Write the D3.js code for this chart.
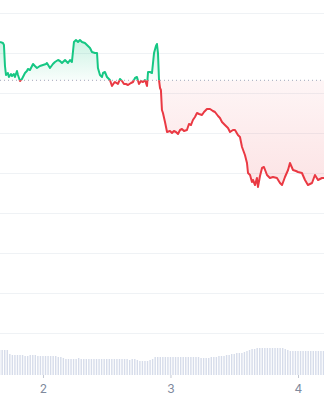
<html>
<head>
<meta charset="utf-8" />
<title>Price chart</title>
<script src="https://d3js.org/d3.v7.min.js"></script>
<style>
  body { margin: 0; background: #fff; }
  svg { display: block; }
  .tick text { font-family: "Inter", "Noto Sans", sans-serif; font-size: 12px; fill: #808a9d; }
  .tick line { stroke: #c3c8d2; }
</style>
</head>
<body>
<script>
var times = [1.663,1.686,1.694,1.702,1.710,1.725,1.733,1.749,1.757,1.772,1.780,1.796,1.804,1.820,1.835,1.859,1.874,1.882,1.898,1.922,
  1.937,1.953,1.976,2.000,2.024,2.031,2.055,2.078,2.094,2.118,2.133,2.149,2.173,2.196,2.212,2.227,2.243,2.259,2.275,2.290,
  2.306,2.329,2.345,2.369,2.384,2.408,2.424,2.431,2.447,2.463,2.471,2.486,2.502,2.525,2.541,2.557,2.565,2.588,2.604,2.620,
  2.635,2.651,2.667,2.690,2.706,2.722,2.737,2.753,2.769,2.784,2.800,2.816,2.824,2.839,2.855,2.871,2.886,2.894,2.902,2.910,
  2.918,2.925,2.933,2.941,2.957,2.973,2.996,3.012,3.027,3.043,3.059,3.075,3.090,3.106,3.129,3.145,3.161,3.176,3.192,3.208,
  3.224,3.247,3.263,3.286,3.310,3.333,3.349,3.373,3.388,3.404,3.427,3.451,3.467,3.490,3.506,3.529,3.545,3.561,3.584,3.600,
  3.608,3.624,3.639,3.647,3.663,3.678,3.686,3.702,3.718,3.733,3.757,3.780,3.804,3.835,3.859,3.875,3.898,3.922,3.937,3.961,
  3.984,4.000,4.031,4.055,4.078,4.110,4.133,4.157,4.188,4.204];

var prices = [29.1,29.0,28.8,26.7,25.8,26.0,25.6,25.9,25.7,25.9,25.6,26.2,25.8,25.2,25.4,26.0,26.2,26.4,26.3,26.9,
  26.7,26.5,26.7,26.8,26.9,27.0,26.5,26.9,27.1,27.3,27.2,27.0,27.3,27.0,27.3,27.1,29.1,29.3,29.1,29.3,
  29.1,29.0,28.8,28.5,28.1,28.0,28.0,26.5,25.8,25.6,26.0,26.1,25.6,25.3,24.7,25.0,25.1,24.9,25.4,25.2,
  24.9,24.9,24.8,25.0,25.1,25.5,25.6,24.9,25.2,25.1,25.3,24.7,26.1,26.1,26.0,28.0,28.7,28.9,28.0,25.3,
  24.5,24.3,22.3,22.0,21.1,20.1,20.2,20.0,20.2,20.1,19.9,20.3,20.4,20.2,20.3,20.9,20.8,21.3,21.6,22.0,
  21.9,21.8,22.1,22.4,22.4,22.2,22.1,21.7,21.5,21.1,20.8,20.5,20.1,20.3,20.3,19.8,19.6,18.6,17.8,17.0,
  16.0,15.8,15.1,15.3,14.8,15.5,14.6,15.7,16.5,16.6,15.8,15.5,15.6,15.5,15.0,14.8,15.6,16.3,17.0,16.3,
  16.2,16.1,16.0,15.3,14.8,15.0,15.8,15.3,15.5,15.5];

var openPrice = 25.27;
var gridValues = [0, 4, 8, 12, 16, 20, 24, 28, 32];
var dayTicks = [2, 3, 4];

// volume bars, one every 0.02 day from volStart
var volStart = 1.66, volStep = 0.02;
var volumes = [25,25,25,25,
  21,20,20,20,20,20,19,19,20,20,
  20,19,19,19,19,19,19,19,19,18,
  18,17,16,16,16,16,16,17,16,16,
  16,16,16,16,16,16,16,16,16,16,
  16,16,16,16,16,16,16,15,16,16,
  15,14,14,14,14,15,16,18,18,18,
  18,18,18,18,18,18,18,18,18,18,
  18,18,18,18,18,17,17,17,17,18,
  18,18,19,19,19,20,20,21,21,22,
  22,22,23,24,25,26,26,27,27,27,
  27,27,27,27,27,27,27,27,26,25,
  24,24,24,24,24,24,24,24,24,24,
  24,24,24,24];

var width = 324, height = 400;
var green = "#16c784", red = "#ea3943";

var svg = d3.select("body").append("svg")
    .attr("width", width)
    .attr("height", height);

var x = d3.scaleLinear().domain(d3.extent(times)).range([0, width]);
var y = d3.scaleLinear().domain([0, 32]).range([333, 13]);
var yv = d3.scaleLinear().domain([0, 40]).range([375, 335]);

var data = times.map(function(t, i) { return {t: t, p: prices[i]}; });
var base = y(openPrice);

var defs = svg.append("defs");

defs.append("clipPath").attr("id", "above")
  .append("rect").attr("x", 0).attr("y", 0).attr("width", width).attr("height", base);
defs.append("clipPath").attr("id", "below")
  .append("rect").attr("x", 0).attr("y", base).attr("width", width).attr("height", height - base);

var gUp = defs.append("linearGradient").attr("id", "gradUp")
    .attr("gradientUnits", "userSpaceOnUse")
    .attr("x1", 0).attr("x2", 0)
    .attr("y1", y(d3.max(prices))).attr("y2", base);
gUp.append("stop").attr("offset", 0).attr("stop-color", green).attr("stop-opacity", 0.22);
gUp.append("stop").attr("offset", 1).attr("stop-color", green).attr("stop-opacity", 0.03);

var gDown = defs.append("linearGradient").attr("id", "gradDown")
    .attr("gradientUnits", "userSpaceOnUse")
    .attr("x1", 0).attr("x2", 0)
    .attr("y1", base).attr("y2", y(d3.min(prices)));
gDown.append("stop").attr("offset", 0).attr("stop-color", red).attr("stop-opacity", 0.05);
gDown.append("stop").attr("offset", 1).attr("stop-color", red).attr("stop-opacity", 0.14);

// gridlines
svg.append("g").selectAll("line")
  .data(gridValues)
  .enter().append("line")
    .attr("x1", 0).attr("x2", width)
    .attr("y1", function(d) { return y(d) + 0.5; })
    .attr("y2", function(d) { return y(d) + 0.5; })
    .attr("stroke", "#eff2f5")
    .attr("stroke-width", 1);

// volume
svg.append("g").selectAll("rect")
  .data(volumes)
  .enter().append("rect")
    .attr("x", function(d, i) { return x(volStart + i * volStep) - 0.7; })
    .attr("width", 1.4)
    .attr("y", function(d) { return yv(d); })
    .attr("height", function(d) { return yv(0) - yv(d); })
    .attr("fill", "#d6dcea");

var area = d3.area()
    .x(function(d) { return x(d.t); })
    .y0(base)
    .y1(function(d) { return y(d.p); });

var line = d3.line()
    .x(function(d) { return x(d.t); })
    .y(function(d) { return y(d.p); });

svg.append("path").datum(data)
    .attr("clip-path", "url(#above)")
    .attr("fill", "url(#gradUp)")
    .attr("d", area);
svg.append("path").datum(data)
    .attr("clip-path", "url(#below)")
    .attr("fill", "url(#gradDown)")
    .attr("d", area);

// dotted open price line
svg.append("line")
    .attr("x1", 0).attr("x2", width)
    .attr("y1", base).attr("y2", base)
    .attr("stroke", "#a1a7bb")
    .attr("stroke-width", 1)
    .attr("stroke-dasharray", "1,3");

svg.append("path").datum(data)
    .attr("clip-path", "url(#above)")
    .attr("fill", "none")
    .attr("stroke", green)
    .attr("stroke-width", 2)
    .attr("stroke-linejoin", "round")
    .attr("d", line);
svg.append("path").datum(data)
    .attr("clip-path", "url(#below)")
    .attr("fill", "none")
    .attr("stroke", red)
    .attr("stroke-width", 2)
    .attr("stroke-linejoin", "round")
    .attr("d", line);

// x axis
var xAxis = svg.append("g")
    .attr("transform", "translate(0," + yv(0) + ")")
    .call(d3.axisBottom(x).tickValues(dayTicks).tickFormat(d3.format("d")).tickSize(3).tickPadding(6));
xAxis.select(".domain").remove();
</script>
</body>
</html>
